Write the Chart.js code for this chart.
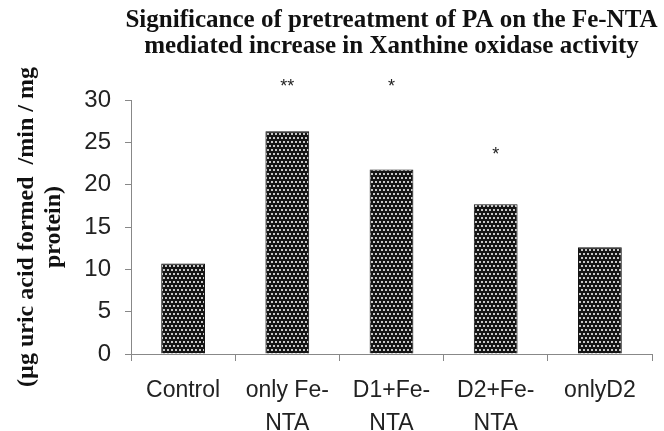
<!DOCTYPE html>
<html>
<head>
<meta charset="utf-8">
<script src="https://cdn.jsdelivr.net/npm/chart.js@4"></script>
<style>
  body { margin: 0; background: #fff; }
  canvas { display: block; }
</style>
</head>
<body>
<canvas id="xoChart" width="664" height="431"></canvas>
<script>
var categories = ['Control', ['only Fe-', 'NTA'], ['D1+Fe-', 'NTA'], ['D2+Fe-', 'NTA'], 'onlyD2'];
var activity = [10.7, 26.3, 21.8, 17.7, 12.6];
var stars = ['', '**', '*', '*', ''];
var starLevels = [null, 32, 32, 24, null];
var yTicks = [0, 5, 10, 15, 20, 25, 30];
var titleLines = ['Significance of pretreatment of PA on the Fe-NTA', 'mediated increase in Xanthine oxidase activity'];
var yTitle = ['(\u00b5g uric acid formed  /min / mg', 'protein)'];

// dotted fill like the old excel pattern
function dotPattern() {
    var c = document.createElement('canvas');
    c.width = 8;
    c.height = 8;
    var g = c.getContext('2d');
    g.fillStyle = '#151515';
    g.fillRect(0, 0, 8, 8);
    g.fillStyle = '#c8c8c8';
    g.fillRect(1, 1, 2, 2);
    g.fillRect(5, 1, 2, 2);
    g.fillRect(3, 5, 2, 2);
    g.fillRect(7, 5, 1, 2);
    g.fillRect(0, 5, 1, 2);
    return g.createPattern(c, 'repeat');
}

var titlePlugin = {
    id: 'centerTitle',
    afterDraw: function(chart) {
        var ctx = chart.ctx;
        var area = chart.chartArea;
        var cx = (area.left + area.right) / 2;
        ctx.save();
        ctx.fillStyle = '#111';
        ctx.font = 'bold 25px "Liberation Serif", "Times New Roman", serif';
        ctx.textAlign = 'center';
        ctx.textBaseline = 'middle';
        ctx.fillText(titleLines[0], cx, 21);
        ctx.fillText(titleLines[1], cx, 47);
        ctx.restore();
    }
};

var starPlugin = {
    id: 'stars',
    afterDatasetsDraw: function(chart) {
        var ctx = chart.ctx;
        var xs = chart.scales.x;
        var ys = chart.scales.y;
        ctx.save();
        ctx.fillStyle = '#222';
        ctx.font = '18px "Liberation Sans", Arial, sans-serif';
        ctx.textAlign = 'center';
        ctx.textBaseline = 'middle';
        stars.forEach(function(s, i) {
            if (!s) return;
            ctx.fillText(s, xs.getPixelForValue(i), ys.getPixelForValue(starLevels[i]) + 4);
        });
        ctx.restore();
    }
};

var ctx = document.getElementById('xoChart').getContext('2d');
var chart = new Chart(ctx, {
    type: 'bar',
    data: {
        labels: categories,
        datasets: [{
            data: activity,
            backgroundColor: dotPattern(),
            borderColor: '#111',
            borderWidth: 1,
            barPercentage: 1,
            categoryPercentage: 0.42
        }]
    },
    options: {
        responsive: false,
        animation: false,
        layout: {
            padding: { top: 100, right: 12, bottom: 0, left: 0 }
        },
        scales: {
            x: {
                afterFit: function(s) { s.height = 77; },
                grid: {
                    drawOnChartArea: false,
                    drawTicks: true,
                    tickLength: 7,
                    color: '#888'
                },
                border: { color: '#888' },
                ticks: {
                    color: '#222',
                    padding: 14,
                    maxRotation: 0,
                    autoSkip: false,
                    font: { family: '"Liberation Sans", Arial, sans-serif', size: 23, lineHeight: 1.4 }
                }
            },
            y: {
                min: 0,
                max: 30,
                afterFit: function(s) { s.width = 131; },
                afterBuildTicks: function(s) {
                    s.ticks = yTicks.map(function(v) { return { value: v }; });
                },
                grid: {
                    drawOnChartArea: false,
                    drawTicks: true,
                    tickLength: 6,
                    color: '#888'
                },
                border: { color: '#888' },
                ticks: {
                    color: '#222',
                    padding: 14,
                    font: { family: '"Liberation Sans", Arial, sans-serif', size: 24 }
                },
                title: {
                    display: true,
                    text: yTitle,
                    color: '#111',
                    padding: { top: 14, bottom: 0 },
                    font: { family: '"Liberation Serif", "Times New Roman", serif', size: 24, weight: 'bold', lineHeight: 1.1 }
                }
            }
        },
        plugins: {
            legend: { display: false },
            tooltip: { enabled: false },
            title: { display: false }
        }
    },
    plugins: [titlePlugin, starPlugin]
});
</script>
</body>
</html>
